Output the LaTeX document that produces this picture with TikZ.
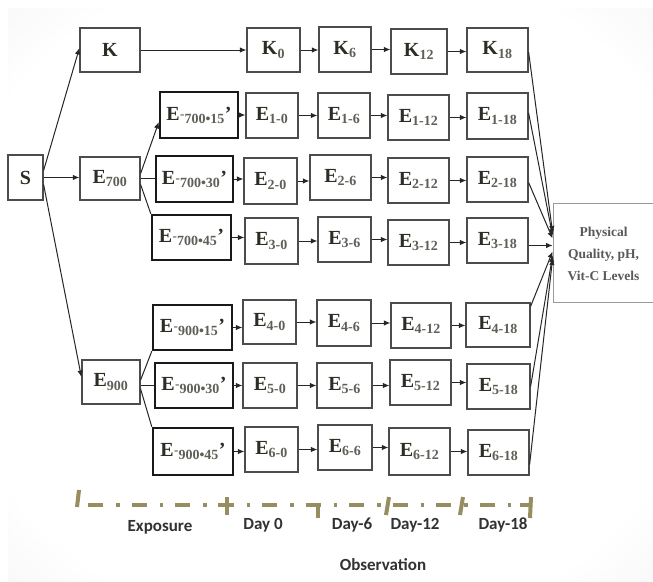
\documentclass[tikz,border=0pt]{standalone}
\usepackage{fontspec}
\setmainfont{Liberation Serif}
\newfontfamily\lblfont{Carlito}
\usetikzlibrary{arrows.meta,calc}
\definecolor{axisol}{RGB}{150,141,96}
\definecolor{txt}{RGB}{45,45,38}
\definecolor{subtxt}{RGB}{95,95,88}
\definecolor{lbltxt}{RGB}{50,50,50}
\pgfdeclareradialshading{vignette}{\pgfpoint{0bp}{0bp}}{color(0bp)=(white); color(30bp)=(white); color(50bp)=(black!9); color(71bp)=(black!24)}
\newcommand\bx[7]{\node[#6, minimum width={(#4-#2)*1pt}, minimum height={(#5-#3)*1pt}] (#1) at ({(#2+#4)/2},{(#3+#5)/2}) {#7};}
\newcommand\Ex[1]{E\kern0.5pt\raisebox{2pt}{\fontsize{13}{13}\selectfont\color{subtxt}-}\textsubscript{\color{subtxt}#1}’}
\newcommand\Es[1]{E\textsubscript{\color{subtxt}#1}}
\newcommand\Ks[1]{K\textsubscript{\color{subtxt}#1}}
\tikzset{
  box/.style={draw=black!70, line width=1.2pt, inner sep=0pt, fill=white, text=txt,
    font=\bfseries\fontsize{20}{22}\selectfont},
  bbox/.style={box, draw=black!90, line width=2.4pt},
  resbox/.style={draw=black!40, line width=0.8pt, fill=white, inner sep=0pt},
  arr/.style={draw=black!85, line width=1pt, -{Latex[length=6.5pt,width=5.5pt]}},
  ln/.style={draw=black!85, line width=1pt},
  axisline/.style={draw=axisol, line width=4pt},
  lbl/.style={text=lbltxt, inner sep=0pt, font=\lblfont\bfseries\fontsize{17}{20}\selectfont}
}
\begin{document}
\begin{tikzpicture}[x=1pt,y=-1pt]
\useasboundingbox (0,0) rectangle (653,581);
\shade[shading=vignette] (8,8) rectangle (653,581);
% left part
\bx{s}{8}{155}{43}{200}{box}{S}
\bx{k}{80}{28}{140}{72}{box}{K}
\bx{e700}{80}{157}{140}{200}{box}{\Es{700}}
\bx{e900}{82}{360}{140}{404}{box}{\Es{900}}
% exposure boxes
\bx{x1}{160}{92}{238}{138}{bbox}{\Ex{700\textbullet15}}
\bx{x2}{156}{156}{233}{202}{bbox}{\Ex{700\textbullet30}}
\bx{x3}{152}{215}{231}{260}{bbox}{\Ex{700\textbullet45}}
\bx{x4}{153}{305}{232}{350}{bbox}{\Ex{900\textbullet15}}
\bx{x5}{155}{363}{233}{408}{bbox}{\Ex{900\textbullet30}}
\bx{x6}{153}{428}{233}{475}{bbox}{\Ex{900\textbullet45}}
% day 0
\bx{k0}{247}{28}{300}{72}{box}{\Ks{0}}
\bx{n10}{246}{93}{298}{138}{box}{\Es{1-0}}
\bx{n20}{244}{158}{297}{204}{box}{\Es{2-0}}
\bx{n30}{245}{218}{298}{264}{box}{\Es{3-0}}
\bx{n40}{243}{300}{296}{344}{box}{\Es{4-0}}
\bx{n50}{243}{363}{297}{408}{box}{\Es{5-0}}
\bx{n60}{245}{427}{298}{472}{box}{\Es{6-0}}
% day 6
\bx{k6}{319}{27}{371}{72}{box}{\Ks{6}}
\bx{n16}{318}{93}{370}{138}{box}{\Es{1-6}}
\bx{n26}{310}{155}{371}{200}{box}{\Es{2-6}}
\bx{n36}{318}{217}{371}{262}{box}{\Es{3-6}}
\bx{n46}{317}{300}{371}{346}{box}{\Es{4-6}}
\bx{n56}{317}{363}{372}{408}{box}{\Es{5-6}}
\bx{n66}{318}{425}{372}{470}{box}{\Es{6-6}}
% day 12
\bx{k12}{391}{29}{447}{74}{box}{\Ks{12}}
\bx{n112}{388}{95}{449}{140}{box}{\Es{1-12}}
\bx{n212}{388}{158}{449}{203}{box}{\Es{2-12}}
\bx{n312}{388}{220}{449}{265}{box}{\Es{3-12}}
\bx{n412}{391}{303}{451}{348}{box}{\Es{4-12}}
\bx{n512}{390}{360}{451}{405}{box}{\Es{5-12}}
\bx{n612}{389}{428}{450}{475}{box}{\Es{6-12}}
% day 18
\bx{k18}{467}{28}{528}{72}{box}{\Ks{18}}
\bx{n118}{467}{93}{528}{139}{box}{\Es{1-18}}
\bx{n218}{467}{157}{528}{202}{box}{\Es{2-18}}
\bx{n318}{467}{218}{528}{263}{box}{\Es{3-18}}
\bx{n418}{466}{303}{530}{347}{box}{\Es{4-18}}
\bx{n518}{467}{364}{530}{409}{box}{\Es{5-18}}
\bx{n618}{468}{430}{529}{475}{box}{\Es{6-18}}
% result
\bx{res}{553}{203}{656}{302}{resbox}{}
\node[align=center, inner sep=0pt, text=black!65, font=\bfseries\fontsize{13.5}{22}\selectfont] (restxt) at (603.5,254) {Physical\\Quality, pH,\\Vit-C Levels};
% left connectors
\draw[arr] ([yshift=7pt]s.east) -- ([yshift=2pt]k.west);
\draw[arr] (s.east) -- (s.east -| e700.west);
\draw[arr] ([yshift=-7pt]s.east) -- ([yshift=5pt]e900.west);
\draw[arr] ([yshift=5pt]e700.east) -- ([yshift=-7pt]x1.west);
\draw[ln] (e700.east) -- (e700.east -| x2.west);
\draw[ln] ([yshift=-6pt]e700.east) -- (x3.north west);
\draw[ln] ([yshift=2pt]e900.east) -- (x4.south west);
\draw[ln] ([yshift=-3pt]e900.east) -- ([yshift=-3pt]e900.east -| x5.west);
\draw[ln] ([yshift=-7pt]e900.east) -- (x6.north west);
% rows
\foreach \a/\b in {k/k0,k0/k6,k6/k12,k12/k18,
  x1/n10,n10/n16,n16/n112,n112/n118,
  x2/n20,n20/n26,n26/n212,n212/n218,
  x3/n30,n30/n36,n36/n312,n312/n318,
  x4/n40,n40/n46,n46/n412,n412/n418,
  x5/n50,n50/n56,n56/n512,n512/n518,
  x6/n60,n60/n66,n66/n612,n612/n618}
  {\draw[arr] (\a.east) -- (\a.east -| \b.west);}
% to result
\draw[arr] ([yshift=-2pt]k18.east) -- ([yshift=20pt]res.west);
\draw[arr] ([yshift=3pt]n118.east) -- ([yshift=17pt]res.west);
\draw[arr] ([yshift=-3pt]n218.east) -- ([yshift=14pt]res.west);
\draw[arr] ([yshift=-5pt]n318.east) -- ([yshift=7pt]res.west);
\draw[arr] ([yshift=-4pt]n418.north east) -- ([yshift=1pt]res.west);
\draw[arr] (n518.east) -- ([yshift=-3pt]res.west);
\draw[arr] ([yshift=-12pt]n618.east) -- ([yshift=-6pt]res.west);
% time axis
\draw[axisline, dash pattern=on 15pt off 13pt on 3.5pt off 12pt] (88,505) -- (531,505);
\draw[axisline] (79,490) -- (77,507);
\draw[axisline] (218,505) -- (234,505);
\draw[axisline] (227,497) -- (227,515);
\draw[axisline] (306,505) -- (318,505);
\draw[axisline] (318,505) -- (318,518);
\draw[axisline] (389,497) -- (386,515);
\draw[axisline] (463,497) -- (460,515);
\draw[axisline] (520,505) -- (531,505);
\draw[axisline] (531,497) -- (530,518);
\node[lbl] (lexp) at (160,527) {Exposure};
\node[lbl] (ld0) at (263,525) {Day 0};
\node[lbl] (ld6) at (352,525) {Day-6};
\node[lbl] (ld12) at (415,525) {Day-12};
\node[lbl] (ld18) at (503,525) {Day-18};
\node[lbl] (lobs) at (383,565) {Observation};
\end{tikzpicture}
\end{document}
